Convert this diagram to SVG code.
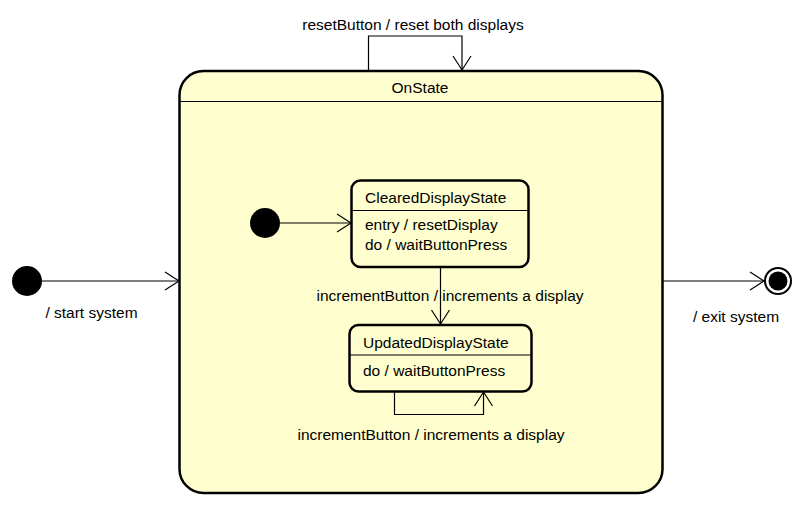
<svg xmlns="http://www.w3.org/2000/svg" width="804" height="506" viewBox="0 0 804 506">
<style>
text{font-family:"Liberation Sans",Arial,sans-serif;font-size:15.5px;fill:#000}
.st{fill:#FEFECE;stroke:#000;stroke-width:2.5}
.sep{stroke:#000;stroke-width:1.2}
.ln{fill:none;stroke:#000;stroke-width:1.2}
.ah{fill:none;stroke:#000;stroke-width:1.2}
</style>
<rect width="804" height="506" fill="#fff"/>
<g id="OnState">
<rect class="st" x="179.5" y="71" width="483" height="422" rx="24" ry="24"/>
<line class="sep" x1="179.5" y1="101.5" x2="662.5" y2="101.5"/>
<text x="420" y="93" text-anchor="middle">OnState</text>
</g>
<g id="start">
<circle cx="27" cy="281" r="15" fill="#000"/>
</g>
<g id="end">
<circle cx="778" cy="281" r="13" fill="#fff" stroke="#000" stroke-width="2"/>
<circle cx="778" cy="281" r="9.5" fill="#000"/>
</g>
<g id="innerStart">
<circle cx="265" cy="223" r="15" fill="#000"/>
</g>
<g id="ClearedDisplayState">
<rect class="st" x="351.5" y="180.5" width="177" height="86.5" rx="9" ry="9"/>
<line class="sep" x1="351.5" y1="210.5" x2="528.5" y2="210.5"/>
<text x="365" y="203">ClearedDisplayState</text>
<text x="365" y="230">entry / resetDisplay</text>
<text x="365" y="250">do / waitButtonPress</text>
</g>
<g id="UpdatedDisplayState">
<rect class="st" x="349.5" y="325" width="182" height="66.5" rx="9" ry="9"/>
<line class="sep" x1="349.5" y1="355" x2="531.5" y2="355"/>
<text x="363" y="348">UpdatedDisplayState</text>
<text x="363" y="376">do / waitButtonPress</text>
</g>
<g id="connectors">
<path class="ln" d="M368.5,70 V36 H462 V70"/>
<path class="ah" d="M453,56 L462,70 L471,56"/>
<text x="413" y="30" text-anchor="middle">resetButton / reset both displays</text>
<path class="ln" d="M42,281 H179"/>
<path class="ah" d="M165,272 L179,281 L165,290"/>
<text x="91.5" y="318" text-anchor="middle">/ start system</text>
<path class="ln" d="M662,281 H764"/>
<path class="ah" d="M750,272 L764,281 L750,290"/>
<text x="736" y="322" text-anchor="middle">/ exit system</text>
<path class="ln" d="M280,223 H351"/>
<path class="ah" d="M337,214 L351,223 L337,232"/>
<path class="ln" d="M440.5,267 V324"/>
<path class="ah" d="M431.5,310 L440.5,324 L449.5,310"/>
<text x="450" y="301" text-anchor="middle">incrementButton / increments a display</text>
<path class="ln" d="M394.5,392 V414.5 H483.5 V392"/>
<path class="ah" d="M474.5,406 L483.5,392 L492.5,406"/>
<text x="431" y="440" text-anchor="middle">incrementButton / increments a display</text>
</g>
</svg>
